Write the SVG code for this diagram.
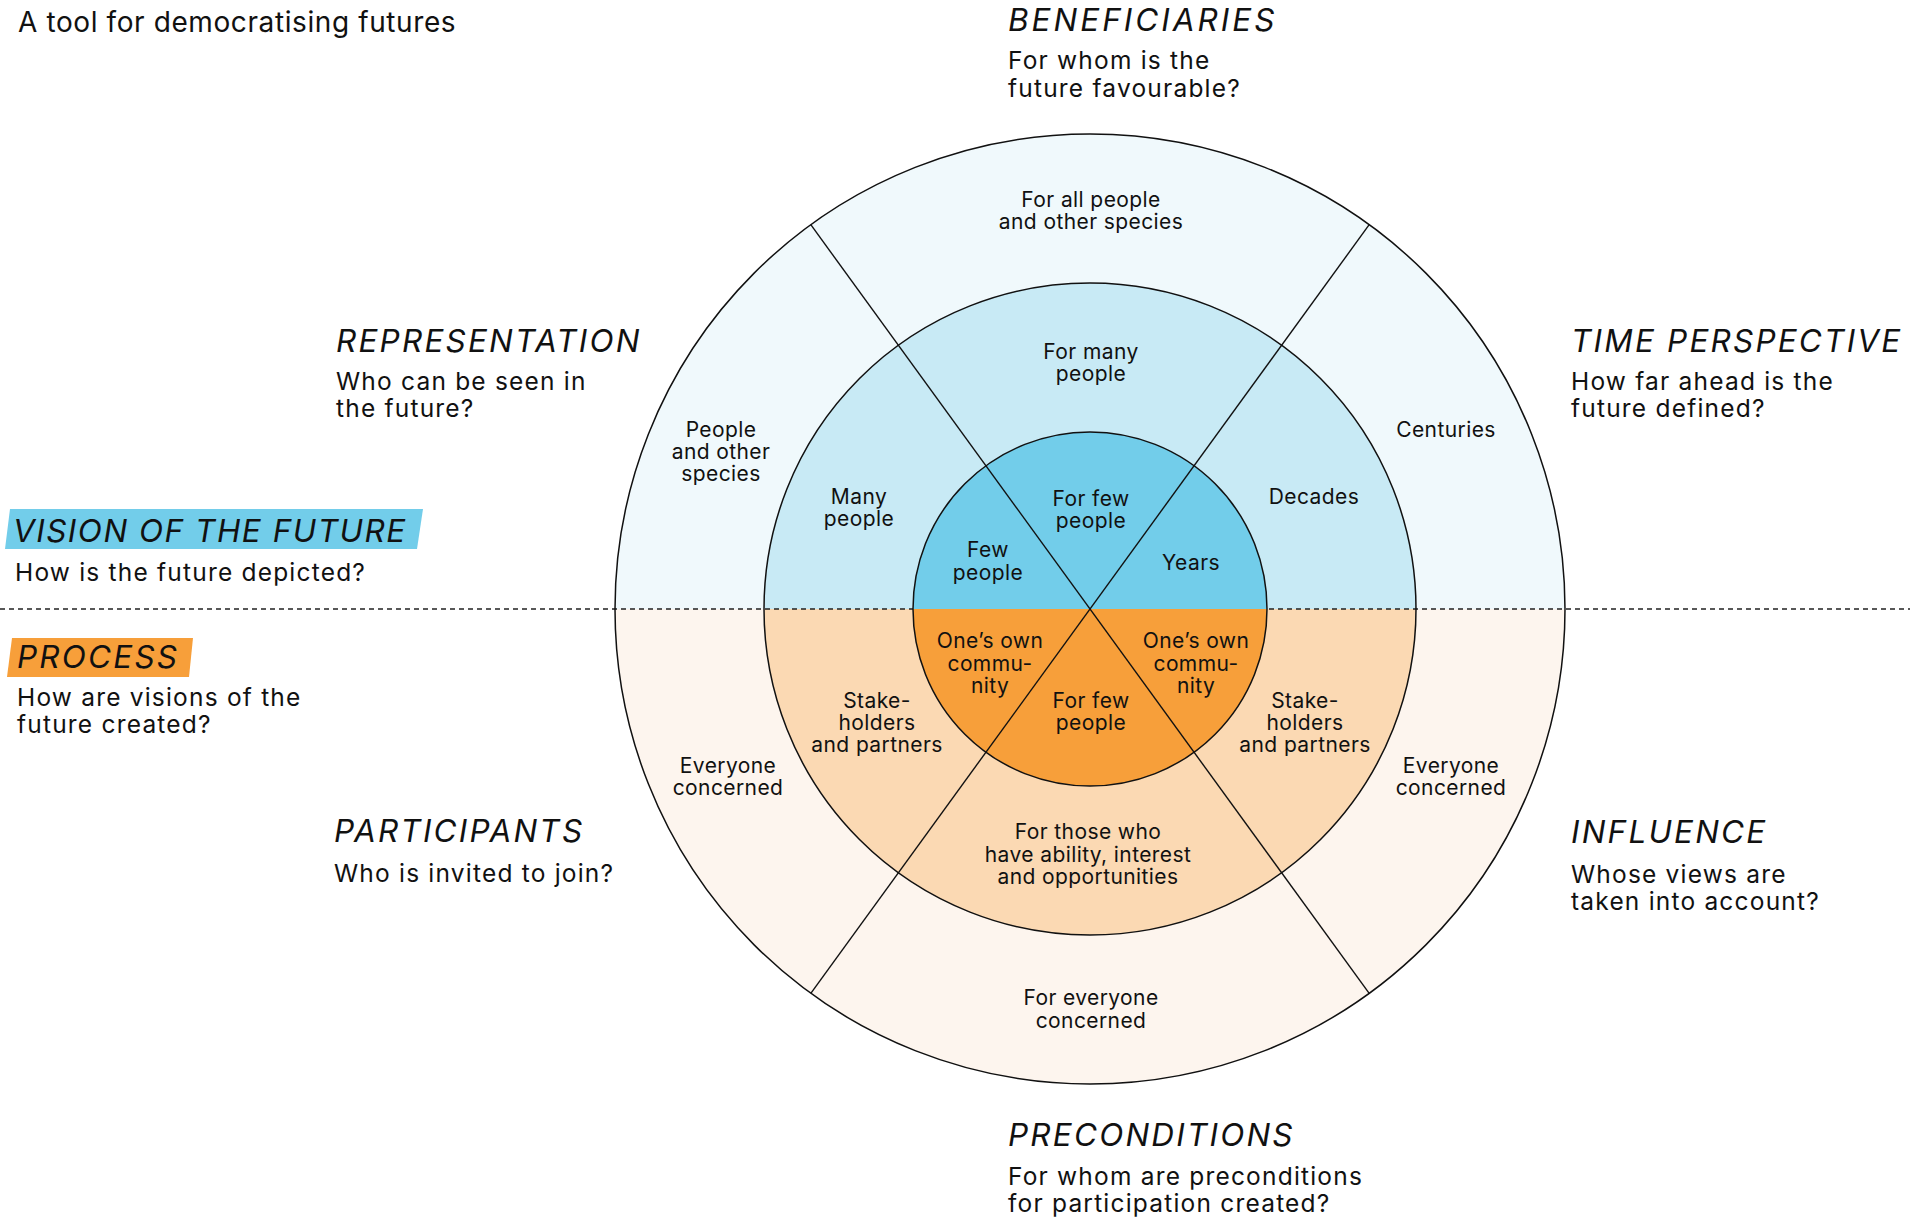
<svg xmlns="http://www.w3.org/2000/svg" width="1910" height="1223" viewBox="0 0 1910 1223">
  <style>
    text { font-family: Inter, "Liberation Sans", sans-serif; fill: #111; }
    .title { font-size: 28px; letter-spacing: 0.6px; }
    .head { font-size: 31.5px; font-style: italic; letter-spacing: 2.2px; }
    .body { font-size: 24.5px; letter-spacing: 1.2px; }
    .lbl { font-size: 21px; letter-spacing: 0.4px; text-anchor: middle; }
    .ring { stroke: none; }
    .edge { fill: none; stroke: #111; stroke-width: 1.5; }
    .ray { stroke: #111; stroke-width: 1.4; }
    .split { stroke: #222; stroke-width: 1.5; stroke-dasharray: 5 4; }
  </style>

  <!-- outer ring halves -->
  <g id="outer-ring">
    <path class="ring" fill="#f0f9fc" d="M615,609 A475,475 0 0 1 1565,609 Z"/>
    <path class="ring" fill="#fdf5ee" d="M615,609 A475,475 0 0 0 1565,609 Z"/>
  </g>

  <!-- middle ring halves -->
  <g id="middle-ring">
    <path class="ring" fill="#c8eaf5" d="M764,609 A326,326 0 0 1 1416,609 Z"/>
    <path class="ring" fill="#fbd9b3" d="M764,609 A326,326 0 0 0 1416,609 Z"/>
  </g>

  <!-- divider between vision and process -->
  <line class="split" x1="0" y1="609" x2="1910" y2="609"/>

  <!-- inner disc halves -->
  <g id="inner-disc">
    <path class="ring" fill="#72cdea" d="M913,609 A177,177 0 0 1 1267,609 Z"/>
    <path class="ring" fill="#f79f3a" d="M913,609 A177,177 0 0 0 1267,609 Z"/>
  </g>

  <!-- circle outlines and sector rays -->
  <g id="connectors">
    <circle class="edge" cx="1090" cy="609" r="475"/>
    <circle class="edge" cx="1090" cy="609" r="326"/>
    <circle class="edge" cx="1090" cy="609" r="177"/>
    <line class="ray" x1="810.8" y1="224.7" x2="1369.2" y2="993.3"/>
    <line class="ray" x1="1369.2" y1="224.7" x2="810.8" y2="993.3"/>
  </g>

  <!-- title -->
  <g id="title">
    <text class="title" x="18" y="32">A tool for democratising futures</text>
  </g>

  <!-- side tags -->
  <g id="tag-vision">
    <polygon points="10,509 423,509 417,549 5,549" fill="#72cdea"/>
    <text class="head" x="13" y="542" style="letter-spacing:1.5px">VISION OF THE FUTURE</text>
    <text class="body" x="15" y="581">How is the future depicted?</text>
  </g>
  <g id="tag-process">
    <polygon points="12,638 193,638 189,677 7,677" fill="#f79f3a"/>
    <text class="head" x="17" y="668">PROCESS</text>
    <text class="body" x="17" y="706">How are visions of the<tspan x="17" dy="27">future created?</tspan></text>
  </g>

  <!-- dimension headings -->
  <g id="beneficiaries">
    <text class="head" x="1008" y="31" style="letter-spacing:3px">BENEFICIARIES</text>
    <text class="body" x="1008" y="69">For whom is the<tspan x="1008" dy="28">future favourable?</tspan></text>
  </g>
  <g id="representation">
    <text class="head" x="336" y="352">REPRESENTATION</text>
    <text class="body" x="336" y="390">Who can be seen in<tspan x="336" dy="27">the future?</tspan></text>
  </g>
  <g id="time-perspective">
    <text class="head" x="1571" y="352">TIME PERSPECTIVE</text>
    <text class="body" x="1571" y="390">How far ahead is the<tspan x="1571" dy="27">future defined?</tspan></text>
  </g>
  <g id="participants">
    <text class="head" x="334" y="842">PARTICIPANTS</text>
    <text class="body" x="334" y="882">Who is invited to join?</text>
  </g>
  <g id="influence">
    <text class="head" x="1571" y="843">INFLUENCE</text>
    <text class="body" x="1571" y="883">Whose views are<tspan x="1571" dy="27">taken into account?</tspan></text>
  </g>
  <g id="preconditions">
    <text class="head" x="1008" y="1146">PRECONDITIONS</text>
    <text class="body" x="1008" y="1185">For whom are preconditions<tspan x="1008" dy="27">for participation created?</tspan></text>
  </g>

  <!-- outer ring labels -->
  <g id="outer-labels">
    <text class="lbl" x="1091" y="207">For all people<tspan x="1091" dy="22">and other species</tspan></text>
    <text class="lbl" x="721" y="437">People<tspan x="721" dy="22">and other</tspan><tspan x="721" dy="22">species</tspan></text>
    <text class="lbl" x="1446" y="437">Centuries</text>
    <text class="lbl" x="728" y="773">Everyone<tspan x="728" dy="22">concerned</tspan></text>
    <text class="lbl" x="1451" y="773">Everyone<tspan x="1451" dy="22">concerned</tspan></text>
    <text class="lbl" x="1091" y="1005">For everyone<tspan x="1091" dy="23">concerned</tspan></text>
  </g>

  <!-- middle ring labels -->
  <g id="middle-labels">
    <text class="lbl" x="1091" y="359">For many<tspan x="1091" dy="22">people</tspan></text>
    <text class="lbl" x="859" y="504">Many<tspan x="859" dy="22">people</tspan></text>
    <text class="lbl" x="1314" y="504">Decades</text>
    <text class="lbl" x="877" y="708">Stake-<tspan x="877" dy="22">holders</tspan><tspan x="877" dy="22">and partners</tspan></text>
    <text class="lbl" x="1305" y="708">Stake-<tspan x="1305" dy="22">holders</tspan><tspan x="1305" dy="22">and partners</tspan></text>
    <text class="lbl" x="1088" y="839">For those who<tspan x="1088" dy="23">have ability, interest</tspan><tspan x="1088" dy="22">and opportunities</tspan></text>
  </g>

  <!-- inner disc labels -->
  <g id="inner-labels">
    <text class="lbl" x="1091" y="506">For few<tspan x="1091" dy="22">people</tspan></text>
    <text class="lbl" x="988" y="557">Few<tspan x="988" dy="23">people</tspan></text>
    <text class="lbl" x="1191" y="570">Years</text>
    <text class="lbl" x="990" y="648">One’s own<tspan x="990" dy="22.5">commu-</tspan><tspan x="990" dy="22.5">nity</tspan></text>
    <text class="lbl" x="1196" y="648">One’s own<tspan x="1196" dy="22.5">commu-</tspan><tspan x="1196" dy="22.5">nity</tspan></text>
    <text class="lbl" x="1091" y="708">For few<tspan x="1091" dy="22">people</tspan></text>
  </g>
</svg>
